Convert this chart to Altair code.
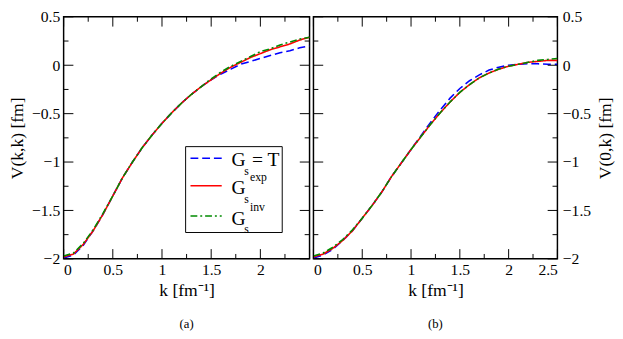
import altair as alt
import pandas as pd

# ---------------- data ----------------
k = [0.0, 0.1, 0.2, 0.3, 0.4, 0.5, 0.6, 0.7, 0.8, 0.9, 1.0, 1.1, 1.2,
     1.3, 1.4, 1.5, 1.6, 1.7, 1.8, 1.9, 2.0, 2.1, 2.2, 2.3, 2.4, 2.5]

# panel (a): V(k,k)
a_T   = [-1.99, -1.96, -1.86, -1.71, -1.54, -1.35, -1.16, -1.00, -0.85, -0.72, -0.60, -0.49, -0.39,
         -0.30, -0.22, -0.15, -0.09, -0.04, 0.01, 0.04, 0.07, 0.10, 0.13, 0.15, 0.18, 0.20]
a_exp = [-1.98, -1.95, -1.85, -1.71, -1.54, -1.35, -1.16, -1.00, -0.85, -0.72, -0.60, -0.49, -0.39,
         -0.30, -0.22, -0.15, -0.08, -0.02, 0.03, 0.08, 0.12, 0.16, 0.19, 0.22, 0.26, 0.29]
a_inv = [-1.97, -1.94, -1.84, -1.70, -1.53, -1.35, -1.16, -1.00, -0.85, -0.72, -0.60, -0.49, -0.39,
         -0.30, -0.22, -0.14, -0.07, -0.01, 0.04, 0.09, 0.14, 0.17, 0.21, 0.24, 0.27, 0.29]

# panel (b): V(0,k)
b_T   = [-1.99, -1.96, -1.90, -1.81, -1.71, -1.58, -1.45, -1.31, -1.15, -1.01, -0.87, -0.73, -0.59,
         -0.46, -0.34, -0.24, -0.16, -0.10, -0.05, -0.02, 0.00, 0.01, 0.015, 0.015, 0.01, 0.01]
b_exp = [-1.98, -1.95, -1.89, -1.81, -1.71, -1.58, -1.45, -1.31, -1.15, -1.01, -0.87, -0.74, -0.61,
         -0.49, -0.38, -0.28, -0.20, -0.13, -0.08, -0.04, -0.01, 0.01, 0.03, 0.04, 0.05, 0.05]
b_inv = [-1.97, -1.94, -1.88, -1.80, -1.70, -1.58, -1.45, -1.31, -1.15, -1.01, -0.87, -0.74, -0.61,
         -0.49, -0.38, -0.28, -0.20, -0.13, -0.08, -0.04, -0.01, 0.01, 0.03, 0.05, 0.06, 0.07]

series = ["T", "exp", "inv"]
colors = ["#0000ff", "#ff0000", "#008b00"]
dashes = [[8, 4], [1, 0], [7, 3, 2, 3]]

x_major = [0, 0.5, 1, 1.5, 2, 2.5]
x_minor = [0.25, 0.75, 1.25, 1.75, 2.25]
y_major = [-2, -1.5, -1, -0.5, 0, 0.5]
y_minor = [-1.75, -1.25, -0.75, -0.25, 0.25]
x_labels_a = [0, 0.5, 1, 1.5, 2]
x_labels_b = [0, 0.5, 1, 1.5, 2, 2.5]

FONT = "Liberation Serif"
H = 248


def long_df(vals):
    rows = []
    for s, v in zip(series, vals):
        for kk, vv in zip(k, v):
            rows.append({"k": kk, "V": vv, "series": s})
    return pd.DataFrame(rows)


def panel(vals, ytitle, yorient, xlabels, caption, W, legend=False):
    xs = alt.Scale(domain=[0, 2.5], nice=False, zero=False)
    ys = alt.Scale(domain=[-2, 0.5], nice=False, zero=False)
    common = dict(labelFont=FONT, titleFont=FONT, labelFontSize=16, titleFontSize=18,
                  titleFontWeight="normal", labelColor="black", titleColor="black",
                  ticks=False, domain=False, grid=False, format="~g")
    xax = alt.Axis(values=xlabels, title="k [fm⁻¹]", orient="bottom",
                   labelPadding=3, titlePadding=5, **common)
    if yorient == "left":
        yax = alt.Axis(values=y_major, title=ytitle, orient="left",
                       titleAngle=270, labelPadding=4, titlePadding=5, **common)
    else:
        yax = alt.Axis(values=y_major, title=ytitle, orient="right",
                       titleAngle=270, titleBaseline="top", labelPadding=5, titlePadding=6, **common)
    X = lambda: alt.X("k:Q", scale=xs, axis=xax)
    Y = lambda: alt.Y("V:Q", scale=ys, axis=yax)
    lines = alt.Chart(long_df(vals)).mark_line(strokeWidth=1.6, clip=True).encode(
        x=X(), y=Y(),
        color=alt.Color("series:N", scale=alt.Scale(domain=series, range=colors), legend=None),
        strokeDash=alt.StrokeDash("series:N", scale=alt.Scale(domain=series, range=dashes), legend=None),
    )
    layers = [lines]
    for vs, ln in [(x_major, 10), (x_minor, 5)]:
        d = pd.DataFrame({"k": vs})
        layers.append(alt.Chart(d).mark_rule(color="black", strokeWidth=1).encode(
            x=X(), y=alt.value(H), y2=alt.value(H - ln)))
        layers.append(alt.Chart(d).mark_rule(color="black", strokeWidth=1).encode(
            x=X(), y=alt.value(0), y2=alt.value(ln)))
    for vs, ln in [(y_major, 10), (y_minor, 5)]:
        d = pd.DataFrame({"V": vs})
        layers.append(alt.Chart(d).mark_rule(color="black", strokeWidth=1).encode(
            y=Y(), x=alt.value(0), x2=alt.value(ln)))
        layers.append(alt.Chart(d).mark_rule(color="black", strokeWidth=1).encode(
            y=Y(), x=alt.value(W), x2=alt.value(W - ln)))
    if legend:
        one = pd.DataFrame({"a": [0]})
        layers.append(alt.Chart(one).mark_rect(fill="white", stroke="black", strokeWidth=1).encode(
            x=alt.value(125), x2=alt.value(224), y=alt.value(133), y2=alt.value(221)))
        ys_line = [145, 173, 204]
        base_g = [153, 182, 213]
        sups = ["", "exp", "inv"]
        for s, c, dsh, yl, yb, sup in zip(series, colors, dashes, ys_line, base_g, sups):
            layers.append(alt.Chart(one).mark_rule(color=c, strokeWidth=1.6, strokeDash=dsh).encode(
                x=alt.value(130), x2=alt.value(162), y=alt.value(yl)))
            layers.append(alt.Chart(one).mark_text(text="G", font=FONT, fontSize=20, align="left",
                                                   baseline="alphabetic", color="black").encode(
                x=alt.value(172), y=alt.value(yb)))
            layers.append(alt.Chart(one).mark_text(text="s", font=FONT, fontSize=12, align="left",
                                                   baseline="alphabetic", color="black").encode(
                x=alt.value(185), y=alt.value(yb + 9)))
            if sup:
                layers.append(alt.Chart(one).mark_text(text=sup, font=FONT, fontSize=12, align="left",
                                                       baseline="alphabetic", color="black").encode(
                    x=alt.value(191), y=alt.value(yb - 14)))
            else:
                layers.append(alt.Chart(one).mark_text(text="= T", font=FONT, fontSize=20, align="left",
                                                       baseline="alphabetic", color="black").encode(
                    x=alt.value(193), y=alt.value(yb)))
    return alt.layer(*layers).properties(
        width=W, height=H,
        title=alt.TitleParams(caption, orient="bottom", font=FONT, fontSize=13, fontWeight="normal",
                              offset=19, color="black"))


left = panel([a_T, a_exp, a_inv], "V(k,k) [fm]", "left", x_labels_a, "(a)", 252, legend=True)
right = panel([b_T, b_exp, b_inv], "V(0,k) [fm]", "right", x_labels_b, "(b)", 250)

chart = alt.hconcat(left, right, spacing=0).properties(
    padding={"left": 0, "top": -4, "right": 0, "bottom": 0}
).configure_view(
    stroke="black", strokeWidth=1.5
)

chart.save("out.html", embed_options={"renderer": "svg", "actions": False})
